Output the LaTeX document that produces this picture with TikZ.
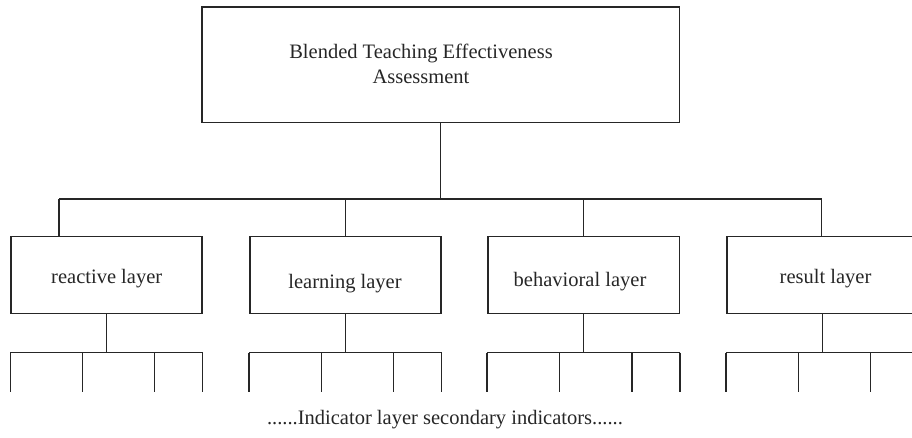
\documentclass[tikz,border=0pt]{standalone}
\usepackage{fontspec}
\setmainfont{Liberation Serif}
\usetikzlibrary{calc}
\begin{document}
\begin{tikzpicture}[x=1pt,y=-1pt,
  box/.style={draw=black!85, line width=1.6pt, minimum width=191pt, minimum height=76.6pt, inner sep=0pt},
  conn/.style={draw=black!85, line width=1.3pt},
  lbl/.style={font=\fontsize{20.5}{25}\selectfont, anchor=base, text=black!85, inner sep=0pt}]
\clip (0,0) rectangle (912,438);
% top box
\node[box, minimum width=477.6pt, minimum height=115.4pt] (top) at (440.5,65) {};
\node[lbl, align=center, anchor=center] (toptext) at (421,64) {Blended Teaching Effectiveness\\Assessment};
% layer boxes
\node[box] (b1) at (106.5,275) {};
\node[box] (b2) at (345.2,275) {};
\node[box, minimum width=191.6pt] (b3) at (583.5,275) {};
\node[box] (b4) at (822.2,275) {};
\node[lbl] (t1) at (106.7,283.3) {reactive layer};
\node[lbl] (t2) at (345,288.3) {learning layer};
\node[lbl] (t3) at (580,286.5) {behavioral layer};
\node[lbl] (t4) at (825.5,283) {result layer};
% bus
\coordinate (j1) at (59,199);
\coordinate (j4) at (821.7,199);
\draw[conn] (top.south) -- (top.south |- j1);
\draw[conn] (j1) -- (j4);
\draw[conn] (j1) -- (j1 |- b1.north);
\draw[conn] (b2.north) -- (b2.north |- j1);
\draw[conn] (b3.north) -- (b3.north |- j1);
\draw[conn] (j4) -- (j4 |- b4.north);
% lower rows
\foreach \b in {b1,b2,b3,b4}{
  \draw[conn] (\b.south) -- ++(0,38.4) coordinate (\b-r);
  \draw[conn] (\b.south west |- \b-r) -- (\b.south east |- \b-r);
  \foreach \f in {0,0.3754,0.7503,1}{
    \draw[conn] ($(\b.south west |- \b-r)!\f!(\b.south east |- \b-r)$) -- ++(0,39.5);
  }
}
\node[lbl] (ind) at (445,424) {......Indicator layer secondary indicators......};
\end{tikzpicture}
\end{document}
